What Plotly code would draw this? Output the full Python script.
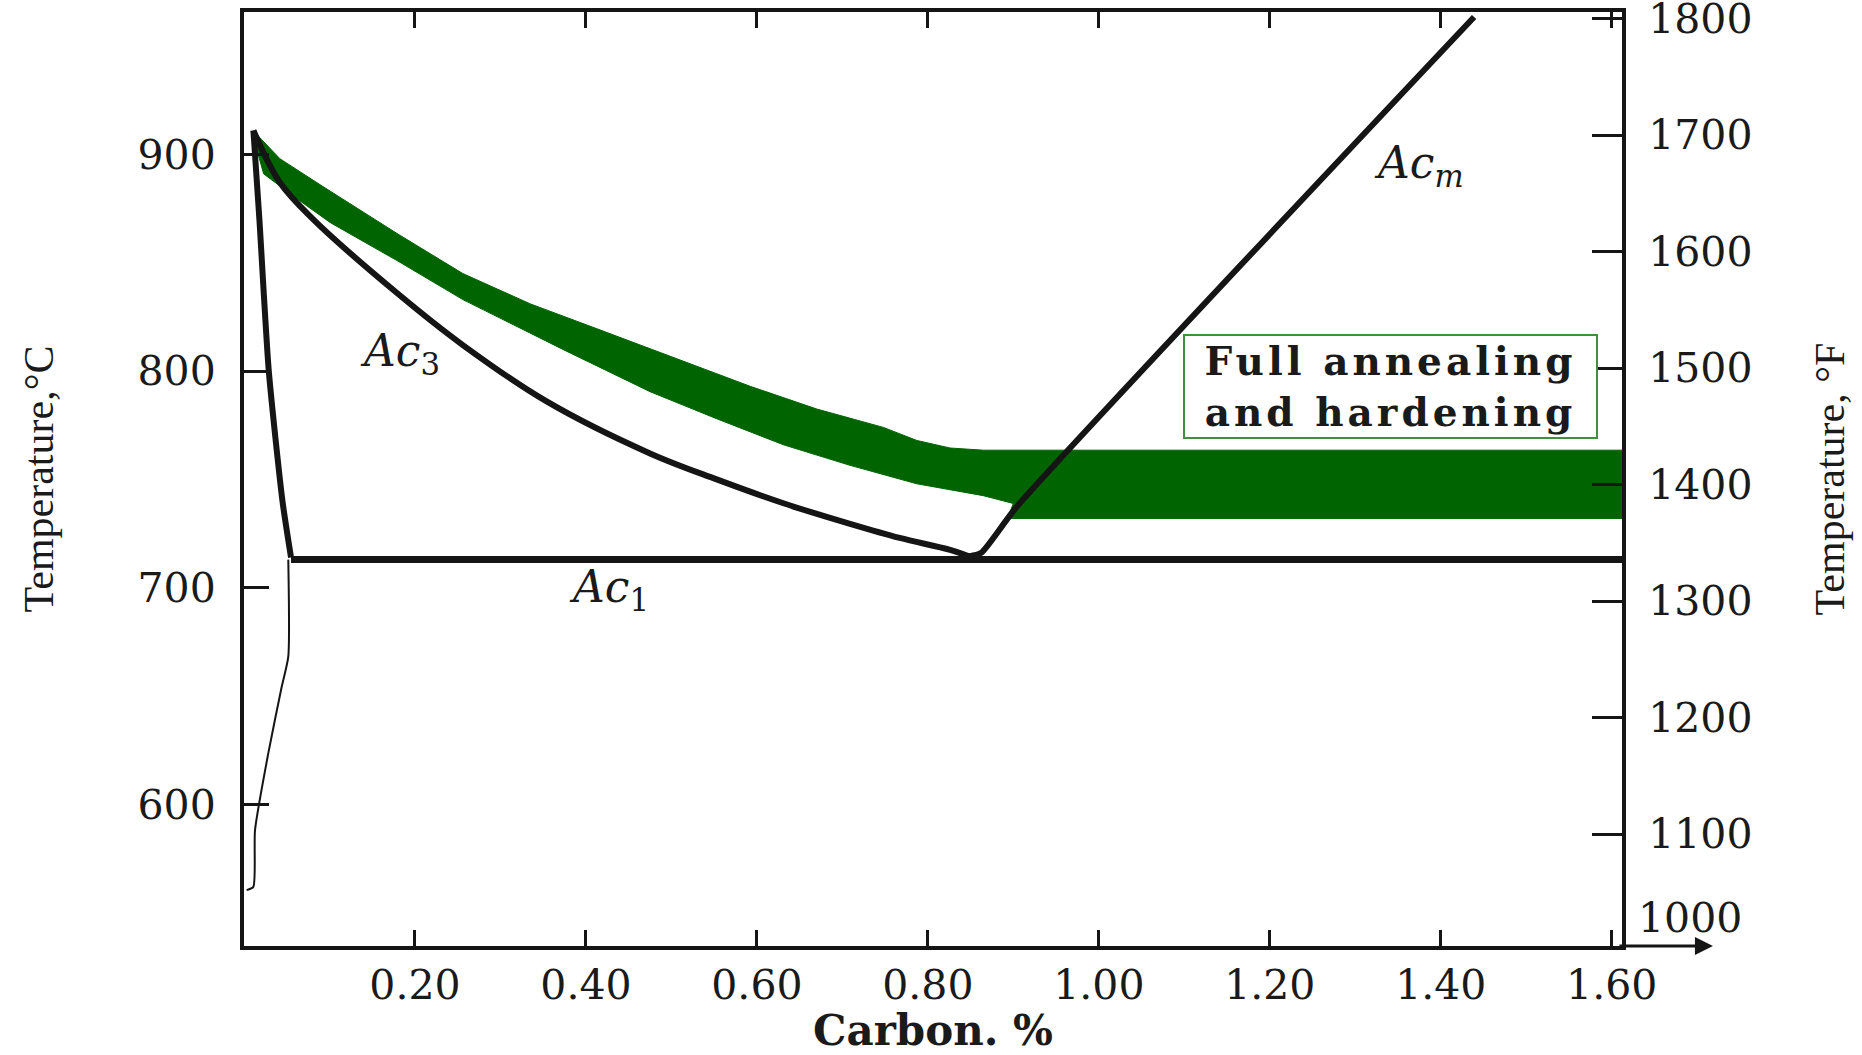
import plotly.graph_objects as go

# ---------------- data (carbon %, temperature °C) ----------------
ac3_x = [0.011, 0.042, 0.081, 0.179, 0.256, 0.354, 0.475, 0.553, 0.631, 0.709, 0.767, 0.826, 0.848]
ac3_t = [911, 887.0, 870.0, 836.0, 812.0, 786.0, 762.0, 750.0, 739.0, 729.5, 723.0, 717.5, 714.5]

acm_x = [0.848, 0.862, 0.904, 1.439]
acm_t = [714.5, 716.0, 737.4, 963.4]

ac1_x = [0.055, 1.612]
ac1_t = [713.1, 713.1]

steep_x = [0.011, 0.018, 0.029, 0.045, 0.055]
steep_t = [911, 870, 800, 740, 714]

thin_x = [0.0518, 0.0518, 0.0441, 0.0284, 0.0129, 0.0109, 0.0031]
thin_t = [713.0, 668.2, 654.3, 623.6, 588.2, 562.0, 560.5]

band_upper_x = [0.013, 0.042, 0.089, 0.179, 0.256, 0.335, 0.413, 0.490, 0.592, 0.670, 0.748, 0.787, 0.826, 0.865, 1.612]
band_upper_t = [910, 898.0, 886.0, 863.5, 845.0, 831.0, 819.5, 808.0, 793.0, 782.5, 774.0, 768.0, 764.5, 763.5, 763.5]
band_right_x = [1.612, 0.893, 0.900]
band_right_t = [732.0, 732.0, 738.9]
band_lower_x = [0.865, 0.787, 0.709, 0.631, 0.553, 0.475, 0.373, 0.256, 0.179, 0.101, 0.062, 0.023, 0.013]
band_lower_t = [742.5, 748.0, 756.5, 766.0, 778.0, 790.5, 810.0, 833.0, 851.0, 868.5, 879.5, 891.0, 905.0]

x_ticks = [0.2, 0.4, 0.6, 0.8, 1.0, 1.2, 1.4, 1.6]
x_ticktext = ["0.20", "0.40", "0.60", "0.80", "1.00", "1.20", "1.40", "1.60"]
c_ticks = [600, 700, 800, 900]
f_ticks = [1100, 1200, 1300, 1400, 1500, 1600, 1700, 1800]
f_extra_label = "1000"

labels = [
    {"text": "<i>Ac</i><sub>3</sub>", "x": 0.182, "t": 808},
    {"text": "<i>Ac</i><sub>1</sub>", "x": 0.427, "t": 699},
    {"text": "<i>Ac</i><sub><i>m</i></sub>", "x": 1.374, "t": 895},
]
box_lines = ["Full annealing", "and hardening"]
box_pos = (1.341, 793)

# ---------------- figure ----------------
GREEN = "#006400"
INK = "#151515"
TICKFONT = dict(family="DejaVu Serif", size=41, color="#1a1a1a")

fig = go.Figure()

fig.add_trace(go.Scatter(
    x=band_upper_x + band_right_x + band_lower_x,
    y=band_upper_t + band_right_t + band_lower_t,
    fill="toself", fillcolor=GREEN, mode="lines",
    line=dict(color=GREEN, width=1),
    hoverinfo="skip", showlegend=False))

for xs, ts, w, sm in [(ac3_x, ac3_t, 6, 1.0), (acm_x, acm_t, 6, 0.6), (ac1_x, ac1_t, 7, 0),
                      (steep_x, steep_t, 6, 0.6), (thin_x, thin_t, 2, 0.6)]:
    fig.add_trace(go.Scatter(x=xs, y=ts, mode="lines",
                             line=dict(color=INK, width=w, shape="spline", smoothing=sm),
                             hoverinfo="skip", showlegend=False))

# invisible trace to activate the right (°F) axis
fig.add_trace(go.Scatter(x=[0.5], y=[1400], yaxis="y2", mode="markers",
                         marker=dict(opacity=0), hoverinfo="skip", showlegend=False))

for lab in labels:
    fig.add_annotation(x=lab["x"], y=lab["t"], text=lab["text"], showarrow=False,
                       font=dict(family="DejaVu Serif", size=44, color="#1a1a1a"))

box_text = "<br>".join('<span style="letter-spacing:4px">&nbsp;%s&nbsp;</span>' % s for s in box_lines)
fig.add_annotation(x=box_pos[0], y=box_pos[1], text=box_text, showarrow=False,
                   font=dict(family="DejaVu Serif", size=39, color="#1a1a1a", weight="bold"),
                   bordercolor="#3f8f3f", borderwidth=2, borderpad=2, bgcolor="white")

fig.add_annotation(x=1.0, xref="paper", xanchor="left", xshift=14,
                   y=0, yref="paper", yanchor="middle", yshift=28, text=f_extra_label,
                   showarrow=False, font=TICKFONT)

# arrow at the end of the carbon axis
fig.add_annotation(x=1.066, y=0, xref="paper", yref="paper", ax=-95, ay=0,
                   showarrow=True, arrowhead=2, arrowsize=1.2, arrowwidth=3,
                   arrowcolor=INK, text="")

fig.update_layout(
    width=1862, height=1055,
    margin=dict(l=244, r=240, t=12, b=109, autoexpand=False),
    paper_bgcolor="white", plot_bgcolor="white",
    showlegend=False,
    xaxis=dict(range=[0, 1.612], tickvals=x_ticks, ticktext=x_ticktext,
               ticks="inside", ticklen=16, tickwidth=3, tickcolor=INK,
               showline=True, linewidth=4, linecolor=INK, mirror="ticks",
               showgrid=False, zeroline=False, tickfont=TICKFONT, automargin=False,
               title=dict(text="Carbon. %", standoff=7,
                          font=dict(family="DejaVu Serif", size=42, color="#1a1a1a", weight="bold"))),
    yaxis=dict(range=[534.7, 965.7], tickvals=c_ticks,
               ticks="inside", ticklen=25, tickwidth=3, tickcolor=INK,
               showline=True, linewidth=4, linecolor=INK,
               showgrid=False, zeroline=False, tickfont=TICKFONT, ticklabelstandoff=16,
               automargin=False,
               title=dict(text="Temperature,°C", standoff=72,
                          font=dict(family="Liberation Serif", size=42, color="#1a1a1a"))),
    yaxis2=dict(range=[1004, 1805.6], tickvals=f_ticks, overlaying="y", side="right",
                ticks="inside", ticklen=30, tickwidth=3, tickcolor=INK,
                showline=True, linewidth=4, linecolor=INK,
                showgrid=False, zeroline=False, tickfont=TICKFONT, ticklabelstandoff=14,
                ticklabeloverflow="allow", automargin=False,
                title=dict(text="Temperature, °F", standoff=64,
                           font=dict(family="Liberation Serif", size=42, color="#1a1a1a"))),
)

fig.write_html("out.html", config={"displayModeBar": False},
               post_script="document.body.style.margin='0';")
